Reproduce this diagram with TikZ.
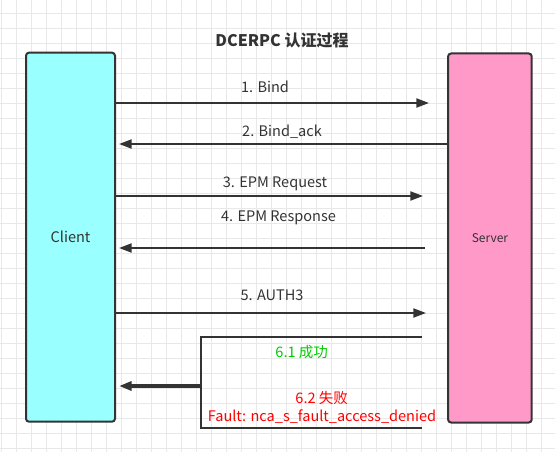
\documentclass[tikz,border=0pt]{standalone}
\usepackage{fontspec}
\setmainfont{Noto Sans CJK SC}
\usetikzlibrary{arrows.meta}
\definecolor{clientcol}{HTML}{99FFFF}
\definecolor{servercol}{HTML}{FF99C8}
\definecolor{linecol}{HTML}{333333}
\definecolor{gridcol}{HTML}{E8E8E8}
\definecolor{okcol}{HTML}{00CC00}
\definecolor{failcol}{HTML}{FF0000}

\begin{document}
\begin{tikzpicture}[x=0.75pt,y=-0.75pt,
    party/.style={draw=linecol,line width=1.5pt,rounded corners=2.25pt,inner sep=0pt,
                  minimum height=276.75pt},
    msg/.style={-{Triangle[length=9.5pt,width=6.75pt]},line width=1.5pt,draw=linecol},
    lbl/.style={text=linecol,font=\fontsize{10.9}{12}\selectfont}]
    \useasboundingbox (0,0) rectangle (555,452);
    %grid
    \foreach \x in {1.7,16.7,...,555}
      \draw[gridcol,line width=0.75pt] (\x,0) -- (\x,452);
    \foreach \y in {13.3,28.3,...,452}
      \draw[gridcol,line width=0.75pt] (0,\y) -- (555,\y);

    \node[font=\bfseries\fontsize{12}{14}\selectfont,text=linecol] (title) at (282,40) {DCERPC 认证过程};

    %parties
    \node[party,fill=clientcol,minimum width=66.75pt,font=\fontsize{10.9}{12}\selectfont,text=linecol]
      (client) at (70.5,237.2) {Client};
    \node[party,fill=servercol,minimum width=62.75pt,font=\fontsize{9}{11}\selectfont,text=linecol]
      (server) at (489.9,238) {Server};

    %messages
    \coordinate (bind) at (429,103);
    \coordinate (ack) at (119,144);
    \coordinate (req) at (423,196);
    \coordinate (resp) at (425,248);
    \coordinate (resp end) at (119,248);
    \coordinate (auth) at (426,313);
    \draw[msg] (client.east |- bind) -- (bind);
    \draw[msg] (server.west |- ack) -- (ack);
    \draw[msg] (client.east |- req) -- (req);
    \draw[msg] (resp) -- (resp end);
    \draw[msg] (client.east |- auth) -- (auth);
    \node[lbl] (bind lbl) at (265,87) {1. Bind};
    \node[lbl] (ack lbl) at (282,132) {2. Bind\_ack};
    \node[lbl] (req lbl) at (275,183.5) {3. EPM Request};
    \node[lbl] (resp lbl) at (278.5,217.5) {4. EPM Response};
    \node[lbl] (auth lbl) at (272,295.5) {5. AUTH3};

    %result
    \coordinate (ok) at (422,337);
    \coordinate (fail) at (422,428);
    \coordinate (join) at (201,386);
    \coordinate (join end) at (119,386);
    \draw[linecol,line width=1.5pt] (ok) -- (join |- ok) -- (join |- fail) -- (fail);
    \draw[msg,line width=2.4pt] (join) -- (join end);
    \node[lbl,text=okcol] (ok lbl) at (301.7,351.7) {6.1 成功};
    \node[lbl,text=failcol] (fail lbl) at (321.7,398) {6.2 失败};
    \node[lbl,text=failcol] (fault lbl) at (322,416.7) {Fault: nca\_s\_fault\_access\_denied};
\end{tikzpicture}
\end{document}
